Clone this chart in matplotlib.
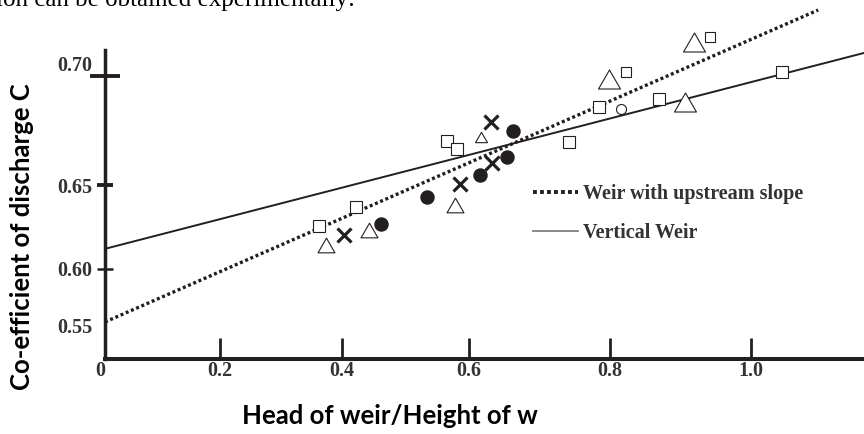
import numpy as np
import matplotlib.pyplot as plt
from matplotlib.lines import Line2D
from matplotlib.path import Path

# =========================
# data (H/w ratio vs discharge coefficient C)
# =========================
# open squares
SQ_X = [0.362, 0.422, 0.565, 0.581, 0.742, 0.784, 0.870, 1.044]
SQ_Y = [0.6256, 0.637, 0.670, 0.6665, 0.6697, 0.6858, 0.6894, 0.7018]
# small open squares
SQS_X = [0.823, 0.942]
SQS_Y = [0.7018, 0.7179]
# open triangles (three sizes)
TRI_X = [0.374, 0.4425, 0.578]
TRI_Y = [0.6143, 0.6232, 0.638]
TRI_SMALL_X = [0.617]
TRI_SMALL_Y = [0.672]
TRI_BIG_X = [0.799, 0.906, 0.919]
TRI_BIG_Y = [0.6986, 0.6883, 0.7154]
# open circle
CIRC_X = [0.816]
CIRC_Y = [0.6849]
# filled circles
DOT_X = [0.461, 0.534, 0.616, 0.654, 0.662]
DOT_Y = [0.6268, 0.6429, 0.6546, 0.6628, 0.6748]
# crosses
CROSS_X = [0.403, 0.586, 0.633, 0.631]
CROSS_Y = [0.620, 0.6505, 0.660, 0.679]

# fitted lines
SLOPE_X = [0.0, 1.095]
SLOPE_Y = [0.5535, 0.7303]
VERT_X = [0.0, 1.160]
VERT_Y = [0.612, 0.7106]

X_TICKS = [0.0, 0.2, 0.4, 0.6, 0.8, 1.0]
X_LABELS = ["0", "0.2", "0.4", "0.6", "0.8", "1.0"]
Y_TICKS = [0.55, 0.60, 0.65, 0.70]
Y_LABELS = ["0.55", "0.60", "0.65", "0.70"]

# hand drawn axes: tick spacing is not uniform, so use a piecewise scale
X_KNOTS = [-0.2, 0.0, 0.2, 0.4, 0.6, 0.8, 1.0, 1.4]
X_PIX = [-115, 0, 115, 237, 364, 505, 646, 928]
Y_KNOTS = [0.40, 0.55, 0.60, 0.65, 0.70, 0.90]
Y_PIX = [-138, 33, 90, 174, 283, 719]

def fwd(k, p):
    return lambda v: np.interp(v, k, p)

def inv(k, p):
    return lambda v: np.interp(v, p, k)

INK = "#231f20"
TXT = "#333333"

fig = plt.figure(figsize=(8.64, 4.34), dpi=100)
ax = fig.add_axes([105 / 864, 75 / 434, 759 / 864, 359 / 434])
ax.set_xscale("function", functions=(fwd(X_KNOTS, X_PIX), inv(X_KNOTS, X_PIX)))
ax.set_yscale("function", functions=(fwd(Y_KNOTS, Y_PIX), inv(Y_KNOTS, Y_PIX)))
ax.set_xlim(0.0, 1.160)
ax.set_ylim(0.521, 0.7349)

# lines
ax.plot(SLOPE_X, SLOPE_Y, color=INK, lw=2.4, linestyle=(0, (0.9, 0.8)), zorder=2)
ax.plot(VERT_X, VERT_Y, color=INK, lw=1.4, zorder=2)

# markers (equilateral open triangle)
tri = Path([(-1, -0.866), (1, -0.866), (0, 0.866), (0, 0)],
           [Path.MOVETO, Path.LINETO, Path.LINETO, Path.CLOSEPOLY])
ax.plot(SQ_X, SQ_Y, ls="none", marker="s", ms=8.6, mfc="white", mec=INK, mew=0.8, zorder=3)
ax.plot(SQS_X, SQS_Y, ls="none", marker="s", ms=6.5, mfc="white", mec=INK, mew=0.8, zorder=3)
ax.plot(TRI_X, TRI_Y, ls="none", marker=tri, ms=12.2, mfc="white", mec=INK, mew=0.8, zorder=3)
ax.plot(TRI_SMALL_X, TRI_SMALL_Y, ls="none", marker=tri, ms=8.6, mfc="white", mec=INK, mew=0.8, zorder=3)
ax.plot(TRI_BIG_X, TRI_BIG_Y, ls="none", marker=tri, ms=15.8, mfc="white", mec=INK, mew=0.8, zorder=3)
ax.plot(CIRC_X, CIRC_Y, ls="none", marker="o", ms=7.2, mfc="white", mec=INK, mew=0.8, zorder=3)
ax.plot(DOT_X, DOT_Y, ls="none", marker="o", ms=9.4, mfc=INK, mec=INK, zorder=3)
ax.plot(CROSS_X, CROSS_Y, ls="none", marker="x", ms=9.5, mec=INK, mew=2.3, zorder=3)

# axes look
for s in ["top", "right"]:
    ax.spines[s].set_visible(False)
ax.spines["left"].set_linewidth(2.5)
ax.spines["left"].set_color(INK)
ax.spines["left"].set_bounds(0.521, 0.712)
ax.spines["bottom"].set_linewidth(2.9)
ax.spines["bottom"].set_color(INK)

tick_font = dict(family="Liberation Serif", weight="bold", size=14.5)
ax.set_xticks(X_TICKS)
ax.set_xticklabels(X_LABELS, fontdict=tick_font, color=TXT)
ax.set_yticks(Y_TICKS)
ax.set_yticklabels(Y_LABELS, fontdict=tick_font, color=TXT)
ax.tick_params(axis="x", direction="in", length=15, width=2.0, color=INK, pad=1.5)
ax.tick_params(axis="y", direction="inout", length=11.5, width=2.8, color=INK, pad=3.5)
ax.minorticks_off()

# per tick tweaks
xt = ax.xaxis.get_major_ticks()
xt[0].tick1line.set_visible(False)
xt[0].label1.set_horizontalalignment("right")
yt = ax.yaxis.get_major_ticks()
yt[0].tick1line.set_visible(False)
yt[1].tick1line.set_markeredgewidth(1.8)
yt[3].tick1line.set_markersize(22)
yt[3].label1.set_verticalalignment("bottom")

# legend
handles = [
    Line2D([], [], color=INK, lw=2.8, linestyle=(0, (1, 0.8))),
    Line2D([], [], color="#808080", lw=1.3),
]
ax.legend(handles, ["Weir with upstream slope", "Vertical Weir"],
          loc="upper left", bbox_to_anchor=(533 / 864, 1 - 184 / 434),
          bbox_transform=fig.transFigure, frameon=False,
          borderpad=0, borderaxespad=0, handlelength=2.25, handletextpad=0.22,
          labelspacing=0.95, labelcolor=TXT,
          prop=dict(family="Liberation Serif", weight="bold", size=14.5))

# axis titles
fig.text(390 / 864, 1 - 416 / 434, "Head of weir/Height of w", ha="center", va="center",
         family="Lato", weight="bold", size=18.5, color="black")
fig.text(22 / 864, 1 - 237 / 434, "Co-efficient of discharge C", ha="center", va="center",
         rotation=90, family="Lato", weight="bold", size=18.5, color="black")

# running text above the figure, mostly cut off at the top
fig.text(-4 / 864, 1 - 6 / 434, "ion can be obtained experimentally:", ha="left", va="baseline",
         family="Liberation Serif", size=18, color="black")

fig.savefig("out.png", dpi=100)
